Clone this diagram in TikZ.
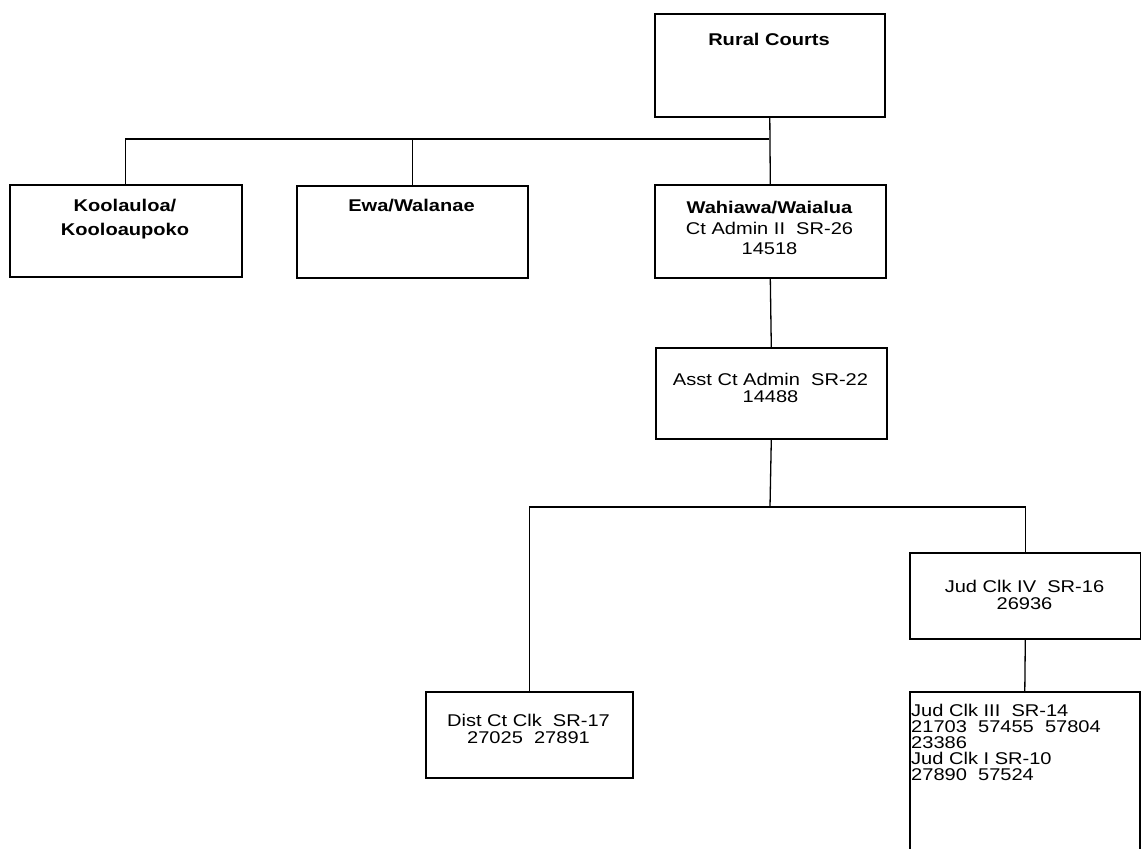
\documentclass[tikz,border=0pt]{standalone}
\usepackage{fontspec}
\setmainfont{Liberation Sans}[FakeStretch=1.18]
\begin{document}
\begin{tikzpicture}[x=1pt,y=-1pt,
  box/.style={draw, line width=1.6pt, inner sep=0pt, anchor=north west},
  txt/.style={inner sep=0pt, anchor=north, align=center, font=\fontsize{17}{17}\selectfont},
  btxt/.style={txt, font=\fontsize{17}{24}\selectfont\bfseries},
  conn/.style={line width=1.3pt}]
\clip (0,0) rectangle (1141,849);
\useasboundingbox (0,0) rectangle (1141,849);
% boxes
\node[box, minimum width=230pt, minimum height=103pt] (rural) at (654,13) {};
\node[box, minimum width=232pt, minimum height=92pt] (koo) at (9,184) {};
\node[box, minimum width=231pt, minimum height=92pt] (ewa) at (296,185) {};
\node[box, minimum width=231pt, minimum height=93pt] (wah) at (654,184) {};
\node[box, minimum width=231pt, minimum height=91pt] (asst) at (655,347) {};
\node[box, minimum width=207pt, minimum height=86pt] (dist) at (425,691) {};
\node[box, minimum width=231pt, minimum height=86pt] (jud4) at (909,552) {};
\node[box, minimum width=230pt, minimum height=159pt] (jud3) at (909,691) {};
% texts
\node[btxt] (ruralt) at (769,33) {Rural Courts};
\node[btxt] (koot) at (125,199) {Koolauloa/\\Kooloaupoko};
\node[btxt] (ewat) at (411.5,199) {Ewa/Walanae};
\node[txt, font=\fontsize{17}{20.5}\selectfont] (waht) at (769.5,201) {\textbf{Wahiawa/Waialua}\\Ct Admin II\ \ SR-26\\14518};
\node[txt] (asstt) at (770.5,373) {Asst Ct Admin\ \ SR-22\\14488};
\node[txt] (distt) at (528.5,714) {Dist Ct Clk\ \ SR-17\\27025\ \ 27891};
\node[txt] (jud4t) at (1024.5,580) {Jud Clk IV\ \ SR-16\\26936};
\node[txt, anchor=north west, align=left, font=\fontsize{17}{16}\selectfont] (jud3t) at (911,704) {Jud Clk III\ \ SR-14\\21703\ \ 57455\ \ 57804\\23386\\Jud Clk I SR-10\\27890\ \ 57524};
% connectors
\coordinate (j1) at (769,139);
\coordinate (j2) at (770,507);
\draw[conn] (rural.south) -- (wah.north);
\draw[conn] (koo.north) |- (j1);
\draw[conn] (ewa.north) -- (ewa.north |- j1);
\draw[conn] (wah.south) -- (asst.north);
\draw[conn] (asst.south) -- (j2);
\draw[conn] (dist.north) |- (j2);
\draw[conn] (j2) -| (jud4.north);
\draw[conn] (jud4.south) -- (jud3.north);
\end{tikzpicture}
\end{document}
